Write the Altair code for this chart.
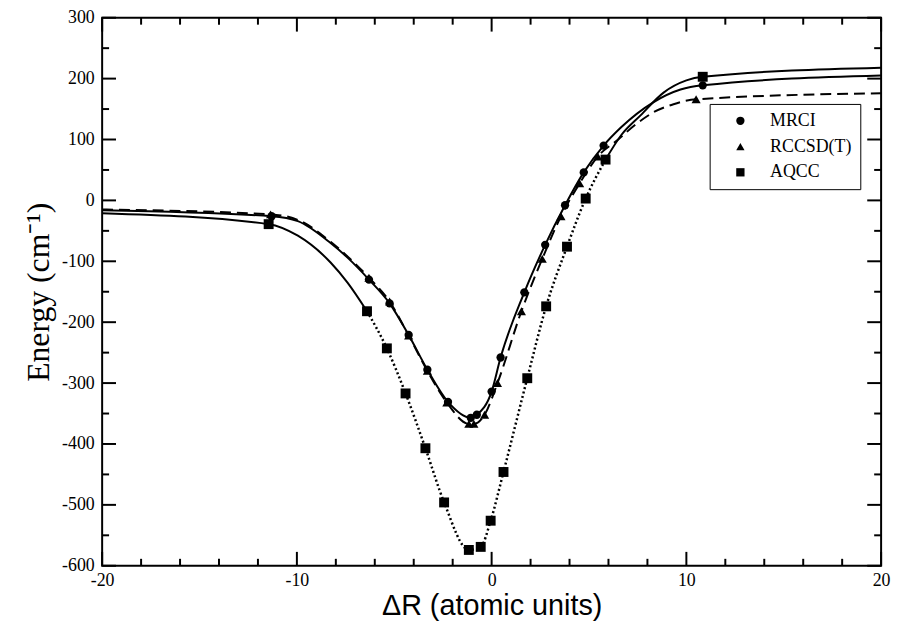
import altair as alt
import pandas as pd

# ---------------- data ----------------
series_names = ["MRCI", "RCCSD(T)", "AQCC"]

mrci_x = [-11.3, -6.3, -5.24, -4.26, -3.3, -2.24, -1.07, -0.76, 0.0, 0.46, 1.68, 2.75, 3.77, 4.73, 5.75, 10.84]
mrci_y = [-26, -130, -169, -221, -278, -331, -357, -352, -314, -258, -151, -73, -8, 46, 90, 189]

rccsd_x = [-11.35, -6.3, -5.24, -4.26, -3.3, -2.3, -1.17, -0.91, -0.36, 0.3, 1.53, 2.6, 3.56, 4.52, 5.45, 10.5]
rccsd_y = [-23, -127, -166, -222, -280, -332, -367, -367, -352, -300, -182, -96, -26, 28, 72, 166]

aqcc_x = [-11.45, -6.4, -5.38, -4.42, -3.4, -2.44, -1.17, -0.56, -0.05, 0.61, 1.83, 2.8, 3.87, 4.83, 5.85, 10.84]
aqcc_y = [-39, -182, -243, -317, -407, -496, -574, -569, -526, -446, -292, -174, -76, 3, 67, 203]

# extra points (outside the markers)
mrci_curve_x = [-20, -9.95, -8.27, -7.4, 6.65, 8.3, 9.7, 20]
mrci_curve_y = [-16, -34, -70, -94, 120, 161, 182, 205]
rccsd_curve_x = [-20, -9.95, -8.27, -7.4, 6.5, 7.41, 8.33, 9.34, 20]
rccsd_curve_y = [-15, -32, -68, -92, 100, 125, 145, 158, 176]
aqcc_left_x = [-20, -9.95, -8.27, -7.4]
aqcc_left_y = [-21, -58, -102, -135]
aqcc_right_x = [6.65, 7.66, 8.83, 10.0, 20]
aqcc_right_y = [107, 140, 177, 197, 218]

# axis ticks
x_major = [-20, -10, 0, 10, 20]
x_minor = [-18, -16, -14, -12, -8, -6, -4, -2, 2, 4, 6, 8, 12, 14, 16, 18]
y_major = [-600, -500, -400, -300, -200, -100, 0, 100, 200, 300]
y_minor = [-550, -450, -350, -250, -150, -50, 50, 150, 250]

X_DOM = [-20, 20]
Y_DOM = [-600, 300]
W, H = 786, 553
MAJOR, MINOR = 14, 7

# ---------------- tables ----------------
pts = pd.concat([
    pd.DataFrame({"x": mrci_x, "y": mrci_y, "series": "MRCI"}),
    pd.DataFrame({"x": rccsd_x, "y": rccsd_y, "series": "RCCSD(T)"}),
    pd.DataFrame({"x": aqcc_x, "y": aqcc_y, "series": "AQCC"}),
], ignore_index=True)

def seg(xs, ys, name):
    return pd.DataFrame({"x": xs, "y": ys, "seg": name})

mrci_line = seg(mrci_x + mrci_curve_x, mrci_y + mrci_curve_y, "mrci")
rccsd_line = seg(rccsd_x + rccsd_curve_x, rccsd_y + rccsd_curve_y, "rccsd")
aq = pd.DataFrame({"x": aqcc_x, "y": aqcc_y})
left_sel = aq[aq.x <= -6.4]
mid_sel = aq[(aq.x >= -6.4) & (aq.x <= 5.85)]
right_sel = aq[aq.x >= 5.85]
aq_left = seg(aqcc_left_x + list(left_sel.x), aqcc_left_y + list(left_sel.y), "aq_left")
aq_mid = seg(list(mid_sel.x), list(mid_sel.y), "aq_mid")
aq_right = seg(list(right_sel.x) + aqcc_right_x, list(right_sel.y) + aqcc_right_y, "aq_right")

solid_df = pd.concat([mrci_line, aq_left, aq_right], ignore_index=True)

# inward frame ticks on all four sides (tick length given in pixels)
ux = (X_DOM[1] - X_DOM[0]) / W
uy = (Y_DOM[1] - Y_DOM[0]) / H
rows = []
for v in x_major + x_minor:
    n = MAJOR if v in x_major else MINOR
    rows.append({"x": v, "x2": v, "y": Y_DOM[0], "y2": Y_DOM[0] + n * uy})
    rows.append({"x": v, "x2": v, "y": Y_DOM[1], "y2": Y_DOM[1] - n * uy})
for v in y_major + y_minor:
    n = MAJOR if v in y_major else MINOR
    rows.append({"x": X_DOM[0], "x2": X_DOM[0] + n * ux, "y": v, "y2": v})
    rows.append({"x": X_DOM[1], "x2": X_DOM[1] - n * ux, "y": v, "y2": v})
ticks_df = pd.DataFrame(rows)

xs = alt.Scale(domain=X_DOM, nice=False, zero=False)
ys = alt.Scale(domain=Y_DOM, nice=False, zero=False)

label_expr = "'' + datum.value"
x_axis = alt.Axis(values=x_major, labelExpr=label_expr, ticks=False, domain=False, grid=False,
                  labelFont="Liberation Serif", labelFontSize=18, labelColor="black", labelPadding=6,
                  labelFlush=False,
                  title="ΔR (atomic units)", titleFont="Liberation Sans", titleFontSize=29,
                  titleFontWeight="normal", titleColor="black", titlePadding=2)
y_axis = alt.Axis(values=y_major, labelExpr=label_expr, ticks=False, domain=False, grid=False,
                  labelFont="Liberation Serif", labelFontSize=18, labelColor="black", labelPadding=8,
                  labelFlush=False,
                  title="Energy (cm⁻¹)", titleFont="Liberation Serif", titleFontSize=32,
                  titleFontWeight="normal", titleColor="black", titlePadding=6)

X = alt.X("x:Q", scale=xs, axis=x_axis)
Y = alt.Y("y:Q", scale=ys, axis=y_axis)

ticks = alt.Chart(ticks_df).mark_rule(color="black", strokeWidth=2, opacity=1).encode(
    x=X, y=Y, x2="x2:Q", y2="y2:Q")
solid = alt.Chart(solid_df).mark_line(color="black", strokeWidth=2, interpolate="monotone", clip=True).encode(
    x=X, y=Y, detail="seg:N")
dashed = alt.Chart(rccsd_line).mark_line(color="black", strokeWidth=2, strokeDash=[11, 6],
                                         interpolate="monotone", clip=True).encode(x=X, y=Y)
dotted = alt.Chart(aq_mid).mark_line(color="black", strokeWidth=2.5, strokeDash=[2, 2.6],
                                     interpolate="monotone", clip=True).encode(x=X, y=Y)

points = alt.Chart(pts).mark_point(filled=True, color="black", opacity=1).encode(
    x=X, y=Y,
    shape=alt.Shape("series:N",
                    scale=alt.Scale(domain=series_names, range=["circle", "triangle-up", "square"]),
                    legend=alt.Legend(orient="none", legendX=613, legendY=87, title=None,
                                      labelFont="Liberation Serif", labelFontSize=18, labelColor="black",
                                      symbolSize=70, symbolFillColor="black", symbolStrokeColor="black",
                                      strokeColor="black", fillColor="white", padding=8, rowPadding=8,
                                      symbolOffset=14, labelOffset=21, cornerRadius=0,
                                      labelExpr="datum.label + '      '")),
    size=alt.Size("series:N", scale=alt.Scale(domain=series_names, range=[70, 100, 80]), legend=None),
)

chart = alt.layer(solid, dashed, dotted, points, ticks).resolve_scale(size="independent").properties(
    width=W, height=H,
    padding={"left": 95, "top": 7, "right": 12, "bottom": 60},
    autosize="none", background="white",
).configure_view(stroke="black", strokeWidth=2)

chart.save("out.html", embed_options={"renderer": "svg", "actions": False})
